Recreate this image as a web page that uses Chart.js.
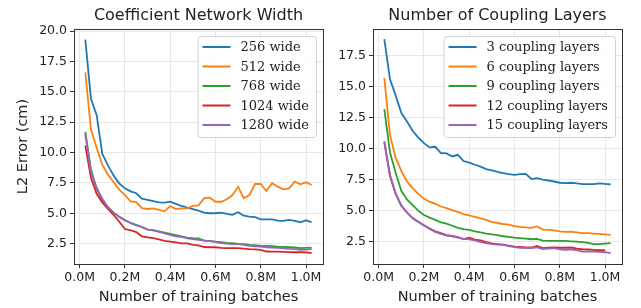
<!DOCTYPE html>
<html>
<head>
<meta charset="utf-8">
<script src="https://cdn.jsdelivr.net/npm/chart.js@4.4.1/dist/chart.umd.min.js"></script>
<style>
  body { margin: 0; background: #fff; }
  #wrap { position: relative; width: 641px; height: 308px; }
  canvas { position: absolute; top: 0; }
</style>
</head>
<body>
<div id="wrap">
  <canvas id="chart-width" width="330" height="308" style="left:0"></canvas>
  <canvas id="chart-layers" width="311" height="308" style="left:330px"></canvas>
</div>
<script>
// training batches, in millions
const batches = [0.025, 0.05, 0.075, 0.1, 0.125, 0.15, 0.175, 0.2, 0.225, 0.25,
  0.275, 0.3, 0.325, 0.35, 0.375, 0.4, 0.425, 0.45, 0.475, 0.5,
  0.525, 0.55, 0.575, 0.6, 0.625, 0.65, 0.675, 0.7, 0.725, 0.75,
  0.775, 0.8, 0.825, 0.85, 0.875, 0.9, 0.925, 0.95, 0.975, 1.0, 1.025];

const xTicks = [0, 0.2, 0.4, 0.6, 0.8, 1.0];
const yTicksWidth = [2.5, 5, 7.5, 10, 12.5, 15, 17.5, 20];
const yTicksLayers = [2.5, 5, 7.5, 10, 12.5, 15, 17.5];

const colors = ["#1f77b4", "#ff7f0e", "#2ca02c", "#d62728", "#9467bd"];

// left plot : network width
const widthLabels = ["256 wide", "512 wide", "768 wide", "1024 wide", "1280 wide"];
const w256 = [19.3, 14.4, 13.1, 9.9, 8.95, 8.1, 7.45, 7.05, 6.8, 6.65, 6.2, 6.1, 6.0, 5.9, 5.87, 5.95, 5.78, 5.6, 5.46, 5.35,
  5.22, 5.05, 5.0, 5.0, 5.05, 4.95, 4.87, 5.08, 4.8, 4.72, 4.68, 4.5, 4.5, 4.5, 4.4, 4.37, 4.45, 4.38, 4.26, 4.42, 4.26];
const w512 = [16.6, 11.9, 10.4, 9.0, 8.2, 7.55, 6.95, 6.5, 5.97, 5.92, 5.42, 5.35, 5.4, 5.27, 5.16, 5.6, 5.35, 5.41, 5.41, 5.6,
  5.65, 6.25, 6.28, 5.95, 5.95, 6.15, 6.5, 7.19, 6.23, 6.5, 7.41, 7.41, 6.83, 7.47, 7.19, 6.97, 7.05, 7.6, 7.38, 7.55, 7.33];
const w768 = [11.7, 8.6, 7.0, 6.1, 5.5, 5.05, 4.7, 4.45, 4.2, 4.05, 3.85, 3.65, 3.6, 3.5, 3.4, 3.3, 3.2, 3.1, 3.0, 2.95,
  2.92, 2.75, 2.72, 2.66, 2.62, 2.55, 2.53, 2.48, 2.46, 2.4, 2.38, 2.31, 2.31, 2.3, 2.25, 2.22, 2.2, 2.18, 2.12, 2.15, 2.17];
const w1024 = [10.6, 7.9, 6.6, 5.9, 5.35, 4.87, 4.3, 3.7, 3.6, 3.45, 3.1, 3.02, 2.95, 2.85, 2.72, 2.66, 2.6, 2.52, 2.52, 2.4,
  2.35, 2.22, 2.2, 2.2, 2.15, 2.12, 2.12, 2.12, 2.08, 2.04, 2.02, 1.98, 1.85, 1.84, 1.84, 1.82, 1.8, 1.79, 1.79, 1.77, 1.71];
const w1280 = [11.5, 8.4, 7.1, 6.2, 5.5, 5.05, 4.72, 4.4, 4.2, 4.0, 3.88, 3.68, 3.6, 3.47, 3.35, 3.22, 3.1, 3.06, 2.94, 2.88,
  2.8, 2.75, 2.7, 2.62, 2.55, 2.5, 2.45, 2.45, 2.4, 2.32, 2.28, 2.25, 2.2, 2.18, 2.14, 2.1, 2.06, 2.04, 1.98, 2.0, 2.04];

// right plot : coupling layers
const layerLabels = ["3 coupling layers", "6 coupling layers", "9 coupling layers", "12 coupling layers", "15 coupling layers"];
const c3 = [18.85, 15.6, 14.3, 12.9, 12.2, 11.45, 10.9, 10.45, 10.1, 10.15, 9.65, 9.62, 9.37, 9.5, 9.0, 8.88, 8.7, 8.55, 8.35, 8.25,
  8.12, 8.03, 7.95, 7.89, 7.95, 7.97, 7.55, 7.62, 7.5, 7.43, 7.35, 7.25, 7.22, 7.25, 7.2, 7.14, 7.14, 7.14, 7.2, 7.15, 7.12];
const c6 = [15.7, 11.1, 9.25, 8.2, 7.35, 6.82, 6.35, 5.95, 5.72, 5.55, 5.33, 5.2, 5.02, 4.9, 4.72, 4.62, 4.5, 4.37, 4.25, 4.1,
  4.0, 3.92, 3.86, 3.74, 3.68, 3.65, 3.6, 3.72, 3.47, 3.45, 3.4, 3.32, 3.28, 3.3, 3.25, 3.18, 3.18, 3.15, 3.12, 3.08, 3.04];
const c9 = [13.2, 9.7, 8.05, 6.6, 5.9, 5.45, 5.0, 4.65, 4.43, 4.25, 4.05, 3.95, 3.78, 3.6, 3.5, 3.45, 3.33, 3.24, 3.15, 3.09,
  3.02, 2.93, 2.88, 2.82, 2.78, 2.73, 2.69, 2.72, 2.58, 2.56, 2.56, 2.56, 2.56, 2.52, 2.49, 2.46, 2.4, 2.3, 2.3, 2.33, 2.37];
const c12 = [10.5, 7.8, 6.35, 5.4, 4.85, 4.4, 4.1, 3.82, 3.55, 3.32, 3.18, 3.02, 2.95, 2.85, 2.7, 2.82, 2.66, 2.6, 2.45, 2.35,
  2.3, 2.25, 2.18, 2.1, 2.08, 2.04, 2.02, 2.15, 1.97, 2.0, 2.02, 2.0, 2.0, 2.02, 1.93, 1.88, 1.86, 1.83, 1.8, 1.8];
const c15 = [10.6, 7.9, 6.41, 5.4, 4.85, 4.38, 4.08, 3.8, 3.52, 3.28, 3.13, 2.99, 2.92, 2.82, 2.72, 2.67, 2.6, 2.46, 2.38, 2.3,
  2.26, 2.23, 2.13, 2.06, 2.0, 1.98, 1.98, 2.03, 1.9, 1.93, 1.97, 1.88, 1.84, 1.88, 1.8, 1.69, 1.69, 1.69, 1.67, 1.64, 1.56];

Chart.defaults.font.family = "DejaVu Sans";
Chart.defaults.color = "#222";

// title over the plot, frame around it, legend box in the upper right corner
const frameAndLegend = {
  id: "frameAndLegend",
  afterDatasetsDraw(chart, args, opts) {
    const { ctx, chartArea: a } = chart;
    ctx.save();
    ctx.strokeStyle = "#333";
    ctx.lineWidth = 1;
    ctx.strokeRect(Math.round(a.left) + 0.5, Math.round(a.top) + 0.5,
      Math.round(a.right - a.left), Math.round(a.bottom - a.top));

    ctx.font = '16px "DejaVu Sans"';
    ctx.fillStyle = "#222";
    ctx.textAlign = "center";
    ctx.textBaseline = "middle";
    ctx.fillText(opts.title, (a.left + a.right) / 2, 16);

    ctx.textAlign = "left";
    ctx.font = '13px "DejaVu Serif"';
    const sets = chart.data.datasets;
    let maxW = 0;
    sets.forEach(d => { maxW = Math.max(maxW, ctx.measureText(d.label).width); });
    const boxW = 43 + maxW + 7;
    const boxH = 101;
    const bx = a.right - 7 - boxW;
    const by = a.top + 7;
    ctx.beginPath();
    ctx.roundRect(bx + 0.5, by + 0.5, boxW, boxH, 3);
    ctx.fillStyle = "rgba(255,255,255,0.85)";
    ctx.fill();
    ctx.strokeStyle = "#d0d0d0";
    ctx.stroke();

    sets.forEach((d, i) => {
      const cy = by + 11 + i * 19.5;
      ctx.strokeStyle = d.borderColor;
      ctx.lineWidth = 2;
      ctx.beginPath();
      ctx.moveTo(bx + 5, cy);
      ctx.lineTo(bx + 33, cy);
      ctx.stroke();
      ctx.fillStyle = "#222";
      ctx.fillText(d.label, bx + 43, cy + 1);
    });
    ctx.restore();
  }
};

function makeChart(id, title, labels, series, yMin, yMax, yTicks, yWidth, padRight, yTitle) {
  const ctx = document.getElementById(id).getContext("2d");
  return new Chart(ctx, {
    type: "line",
    data: {
      datasets: series.map((s, i) => ({
        label: labels[i],
        data: s.map((v, j) => ({ x: batches[j], y: v })),
        borderColor: colors[i],
        borderWidth: 1.8,
        pointRadius: 0,
        tension: 0,
        fill: false,
        order: -i
      }))
    },
    options: {
      responsive: false,
      animation: false,
      devicePixelRatio: 1,
      layout: { padding: { left: 0, right: padRight, top: 29, bottom: 0 } },
      plugins: {
        legend: { display: false },
        tooltip: { enabled: false },
        title: { display: false },
        frameAndLegend: { title: title }
      },
      scales: {
        x: {
          type: "linear",
          min: -0.025,
          max: 1.075,
          afterBuildTicks: s => { s.ticks = xTicks.map(v => ({ value: v })); },
          afterFit: s => { s.height = 44; },
          ticks: {
            font: { size: 12.5 },
            padding: 2,
            maxRotation: 0,
            callback: v => v.toFixed(1) + "M"
          },
          grid: { color: "#e8e8e8", tickColor: "#333", tickLength: 4 },
          border: { display: false },
          title: {
            display: true,
            text: "Number of training batches",
            font: { size: 14.5 },
            padding: { top: 0, bottom: 2 }
          }
        },
        y: {
          min: yMin,
          max: yMax,
          afterBuildTicks: s => { s.ticks = yTicks.map(v => ({ value: v })); },
          afterFit: s => { s.width = yWidth; },
          ticks: {
            font: { size: 12.5 },
            padding: 3,
            callback: v => v.toFixed(1)
          },
          grid: { color: "#e8e8e8", tickColor: "#333", tickLength: 4 },
          border: { display: false },
          title: {
            display: !!yTitle,
            text: yTitle || "",
            font: { size: 14.5 },
            padding: { top: 15, bottom: 0 }
          }
        }
      }
    },
    plugins: [frameAndLegend]
  });
}

makeChart("chart-width", "Coefficient Network Width", widthLabels,
  [w256, w512, w768, w1024, w1280], 0.82, 20.18, yTicksWidth, 74, 7, "L2 Error (cm)");
makeChart("chart-layers", "Number of Coupling Layers", layerLabels,
  [c3, c6, c9, c12, c15], 0.69, 19.66, yTicksLayers, 43, 19, null);
</script>
</body>
</html>
